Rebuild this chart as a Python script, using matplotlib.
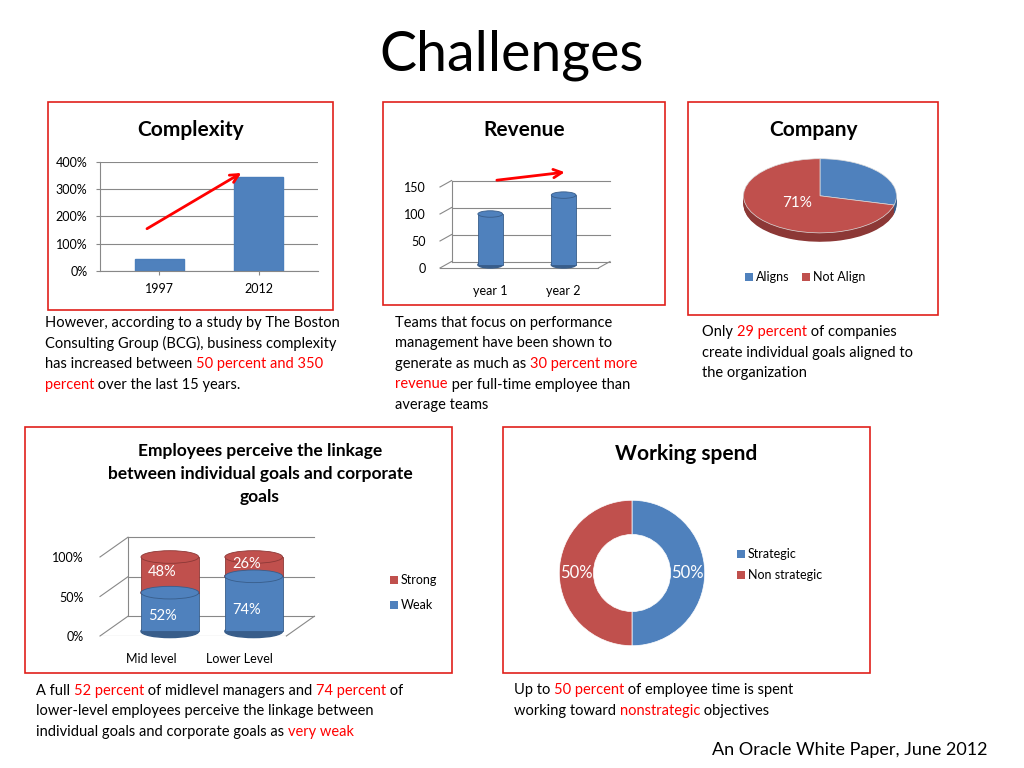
import matplotlib
matplotlib.use("Agg")
import matplotlib.pyplot as plt
from matplotlib.patches import Rectangle, Ellipse

W, H = 1024, 768
FONT = "Lato"
plt.rcParams["font.family"] = FONT
BLUE = "#4F81BD"; RED = "#C0504D"; DBLUE = "#385D8A"; DRED = "#8C3836"; TXTRED = "#FF0000"

cx_years = ["1997", "2012"]; cx_vals = [45, 345]; cx_ticks = [0, 100, 200, 300, 400]
rv_cats = ["year 1", "year 2"]; rv_vals = [100, 135]; rv_ticks = [0, 50, 100, 150]
co_labels = ["Aligns", "Not Align"]; co_vals = [29, 71]
em_cats = ["Mid level", "Lower Level"]; em_weak = [52, 74]; em_strong = [48, 26]
ws_labels = ["Strategic", "Non strategic"]; ws_vals = [50, 50]

fig = plt.figure(figsize=(W/100, H/100), dpi=100)
fig.patch.set_facecolor("white")

def box(x, y, w, h):
    return [x/W, 1-(y+h)/H, w/W, h/H]

def frame(x, y, w, h):
    fig.patches.append(Rectangle((x/W, 1-(y+h)/H), w/W, h/H, transform=fig.transFigure,
                                 fill=False, ec="#E0201B", lw=1.2))

def ftext(x, y, s, **kw):
    return fig.text(x/W, 1-y/H, s, **kw)

def legsq(x, y, col, label):
    fig.patches.append(Rectangle((x/W, 1-(y+4)/H), 8/W, 8/H, transform=fig.transFigure,
                                 fc=col, ec="none"))
    ftext(x + 11, y, label, fontsize=9, va="center")

ftext(512, 55, "Challenges", ha="center", va="center", fontsize=40)

frame(48, 102, 285, 208); frame(383, 102, 282, 203); frame(688, 102, 250, 213)
frame(25, 427, 427, 246); frame(503, 427, 367, 246)

ftext(191, 130, "Complexity", ha="center", va="center", fontsize=15, weight="bold")
ftext(524, 130, "Revenue", ha="center", va="center", fontsize=15, weight="bold")
ftext(814, 130, "Company", ha="center", va="center", fontsize=15, weight="bold")
ftext(260, 474, "Employees perceive the linkage\nbetween individual goals and corporate\ngoals",
      ha="center", va="center", fontsize=12.5, weight="bold", linespacing=1.55)
ftext(686, 454, "Working spend", ha="center", va="center", fontsize=15, weight="bold")

# Complexity
ax = fig.add_axes(box(100, 162, 218, 109))
ax.bar([0, 1], cx_vals, width=0.5, color=BLUE, edgecolor="#4A7EBB", zorder=2)
ax.set_xlim(-0.6, 1.6); ax.set_ylim(0, 400)
ax.set_yticks(cx_ticks); ax.set_yticklabels([f"{t}%" for t in cx_ticks], fontsize=9)
ax.set_xticks([0, 1]); ax.set_xticklabels(cx_years, fontsize=9)
ax.grid(axis="y", color="#888888", lw=0.8, zorder=0)
for s in ["top", "right"]: ax.spines[s].set_visible(False)
ax.spines["left"].set_color("#888888"); ax.spines["bottom"].set_color("#888888")
ax.tick_params(length=3, colors="#888888", labelcolor="black", pad=6)
ax.annotate("", xy=(-0.15 + 1.0, 365), xytext=(-0.15, 150),
            arrowprops=dict(arrowstyle="->", color="red", lw=2, mutation_scale=15))

def cyl(ax, x, b, t, w, col, dcol, eh):
    ax.add_patch(Ellipse((x, b), w, eh, fc=dcol, ec=dcol, zorder=2, clip_on=False))
    ax.add_patch(Rectangle((x-w/2, b), w, t-b, fc=col, ec=dcol, lw=0.6, zorder=3, clip_on=False))
    ax.add_patch(Ellipse((x, t), w, eh, fc=col, ec=dcol, lw=0.6, zorder=4, clip_on=False))

# Revenue
ax = fig.add_axes(box(440, 160, 170, 108))
ax.set_xlim(-0.1, 2.1); ax.set_ylim(0, 200)
for t in rv_ticks:
    ax.plot([-0.1, 0.05], [t, t+12], color="#888888", lw=0.8, clip_on=False)
    ax.plot([0.05, 2.1], [t+12, t+12], color="#888888", lw=0.8, clip_on=False)
ax.plot([0.05, 0.05], [12, 162], color="#888888", lw=0.8, clip_on=False)
ax.plot([-0.1, 1.95], [0, 0], color="#888888", lw=0.8, clip_on=False)
ax.plot([1.95, 2.1], [0, 12], color="#888888", lw=0.8, clip_on=False)
for i, v in enumerate(rv_vals):
    cyl(ax, 0.55 + i*0.95, 6, v, 0.32, BLUE, DBLUE, 12)
ax.set_yticks(rv_ticks); ax.set_yticklabels([str(t) for t in rv_ticks], fontsize=9)
ax.set_xticks([0.55, 1.5]); ax.set_xticklabels(rv_cats, fontsize=9)
for s in ax.spines.values(): s.set_visible(False)
ax.tick_params(length=0, axis="x", pad=12); ax.tick_params(length=0, axis="y", pad=10)
ax.annotate("", xy=(1.55, 178), xytext=(0.6, 162),
            arrowprops=dict(arrowstyle="->", color="red", lw=2, mutation_scale=15))

# Company pie (pseudo 3D)
ax = fig.add_axes(box(742, 158, 156, 86))
for dy in [i*0.02 for i in range(12, 0, -1)]:
    ax.pie(co_vals, colors=[DBLUE, DRED], startangle=90, counterclock=False,
           center=(0, -dy), radius=1, wedgeprops=dict(lw=0))
ax.pie(co_vals, colors=[BLUE, RED], startangle=90, counterclock=False,
       center=(0, 0), radius=1, wedgeprops=dict(lw=0.5, ec="#DDDDDD"))
ax.set_aspect("auto"); ax.set_xlim(-1.02, 1.02); ax.set_ylim(-1.3, 1.02)
ax.text(-0.3, -0.2, f"{co_vals[1]}%", color="white", fontsize=11, ha="center", va="center")
legsq(745, 277, BLUE, co_labels[0])
legsq(802, 277, RED, co_labels[1])

# Employees stacked cylinders
ax = fig.add_axes(box(100, 557, 205, 79))
ax.set_xlim(0, 2.2); ax.set_ylim(0, 100)
for t in [0, 50, 100]:
    ax.plot([0, 0.3], [t, t+25], color="#888888", lw=0.8, clip_on=False)
    ax.plot([0.3, 2.3], [t+25, t+25], color="#888888", lw=0.8, clip_on=False)
ax.plot([0.3, 0.3], [25, 125], color="#888888", lw=0.8, clip_on=False)
ax.plot([0, 2.0], [0, 0], color="#888888", lw=0.8)
ax.plot([2.0, 2.3], [0, 25], color="#888888", lw=0.8, clip_on=False)
xs = [0.75, 1.65]
for i in range(2):
    top_w = 6 + em_weak[i]*0.94
    cyl(ax, xs[i], 6, top_w, 0.62, BLUE, DBLUE, 16)
    cyl(ax, xs[i], top_w, 6 + 94, 0.62, RED, DRED, 16)
    ax.text(xs[i] - 0.08, 6 + em_weak[i]*0.36, f"{em_weak[i]}%", color="white", fontsize=10.5, ha="center", va="center", zorder=6)
    ax.text(xs[i] - 0.08, top_w + em_strong[i]*0.47 + 3, f"{em_strong[i]}%", color="white", fontsize=10.5, ha="center", va="center", zorder=6)
ax.set_yticks([0, 50, 100]); ax.set_yticklabels(["0%", "50%", "100%"], fontsize=9)
ax.set_xticks([0.55, 1.5]); ax.set_xticklabels(em_cats, fontsize=9)
for s in ax.spines.values(): s.set_visible(False)
ax.tick_params(length=0, pad=12)
ax.patch.set_alpha(0)
legsq(390, 580, RED, "Strong")
legsq(390, 605, BLUE, "Weak")

# Donut
ax = fig.add_axes(box(552, 493, 160, 160))
ax.pie(ws_vals, colors=[BLUE, RED], startangle=90, counterclock=False, radius=1,
       wedgeprops=dict(width=0.47, lw=0.5, ec="white"))
ax.set_xlim(-1.1, 1.1); ax.set_ylim(-1.1, 1.1); ax.set_aspect("equal")
ax.text(0.76, 0, f"{ws_vals[0]}%", color="white", fontsize=12, ha="center", va="center")
ax.text(-0.76, 0, f"{ws_vals[1]}%", color="white", fontsize=12, ha="center", va="center")
legsq(737, 554, BLUE, ws_labels[0])
legsq(737, 575, RED, ws_labels[1])

fig.canvas.draw()
R = fig.canvas.get_renderer()
def rich(x, y, lines, size=10.5, lh=20.5):
    for j, line in enumerate(lines):
        cx = x
        for s, c in line:
            t = ftext(cx, y + j*lh, s, color=c, fontsize=size, va="center")
            cx += t.get_window_extent(R).width
K = "black"
rich(45, 323, [[("However, according to a study by The Boston", K)],
               [("Consulting Group (BCG), business complexity", K)],
               [("has increased between ", K), ("50 percent and 350", TXTRED)],
               [("percent", TXTRED), (" over the last 15 years.", K)]])
rich(395, 323, [[("Teams that focus on performance", K)],
                [("management have been shown to", K)],
                [("generate as much as ", K), ("30 percent more", TXTRED)],
                [("revenue", TXTRED), (" per full-time employee than", K)],
                [("average teams", K)]])
rich(702, 332, [[("Only ", K), ("29 percent", TXTRED), (" of companies", K)],
                [("create individual goals aligned to", K)],
                [("the organization", K)]])
rich(36, 691, [[("A full ", K), ("52 percent", TXTRED), (" of midlevel managers and ", K), ("74 percent", TXTRED), (" of", K)],
               [("lower-level employees perceive the linkage between", K)],
               [("individual goals and corporate goals as ", K), ("very weak", TXTRED)]])
rich(514, 690, [[("Up to ", K), ("50 percent", TXTRED), (" of employee time is spent", K)],
                [("working toward ", K), ("nonstrategic", TXTRED), (" objectives", K)]])
ftext(988, 750, "An Oracle White Paper, June 2012", ha="right", va="center", fontsize=13)

fig.savefig("out.png", dpi=100)
